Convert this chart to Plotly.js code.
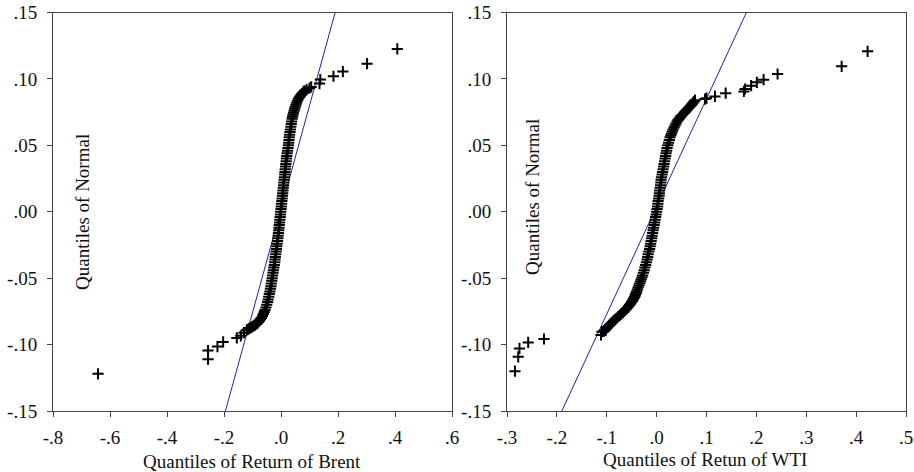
<!DOCTYPE html>
<html>
<head>
<meta charset="utf-8">
<script src="https://cdn.plot.ly/plotly-3.0.1.min.js"></script>
<style>html,body{margin:0;padding:0;background:#fff;}#chart{width:914px;height:472px;}</style>
</head>
<body>
<div id="chart"></div>
<script>
// Brent: sample quantiles (x) vs normal quantiles (y)
const brentX = [-0.642,-0.256,-0.256,-0.223,-0.203,-0.155,-0.141,-0.130,
  -0.120,-0.116,-0.112,-0.108,-0.104,-0.100,-0.097,-0.093,-0.090,-0.086,-0.083,-0.079,-0.076,-0.072,-0.069,-0.065,-0.062,-0.059,-0.056,-0.053,-0.050,-0.047,-0.045,-0.043,-0.041,-0.039,-0.037,-0.0355,-0.034,-0.0325,-0.031,-0.0295,-0.028,-0.0265,-0.025,-0.0235,-0.022,-0.021,-0.020,-0.0185,-0.017,-0.016,-0.015,-0.0135,-0.012,-0.011,-0.010,-0.009,-0.008,-0.007,-0.006,-0.005,-0.004,-0.003,-0.002,-0.001,
  0.000,0.001,0.002,0.003,0.004,0.005,0.006,0.007,0.008,0.009,0.010,0.011,0.012,0.013,0.014,0.015,0.016,0.017,0.018,0.019,0.020,0.0215,0.023,0.0245,0.026,0.027,0.028,0.029,0.030,0.0315,0.033,0.0345,0.036,0.0375,0.039,0.0405,0.042,0.044,0.046,0.048,0.050,0.0525,0.055,0.058,0.061,0.064,0.067,0.0705,0.074,0.078,0.082,
  0.090,0.100,0.106,0.135,0.138,0.184,0.217,0.302,0.408];
const brentY = [-0.122,-0.111,-0.1045,-0.1015,-0.098,-0.095,-0.0934,-0.091,
  -0.089,-0.0885,-0.088,-0.0875,-0.087,-0.0865,-0.086,-0.0855,-0.085,-0.0845,-0.084,-0.083,-0.082,-0.081,-0.080,-0.0785,-0.077,-0.0755,-0.074,-0.072,-0.070,-0.068,-0.066,-0.064,-0.062,-0.060,-0.058,-0.056,-0.054,-0.052,-0.050,-0.048,-0.046,-0.044,-0.042,-0.040,-0.038,-0.036,-0.034,-0.032,-0.030,-0.028,-0.026,-0.024,-0.022,-0.020,-0.018,-0.016,-0.014,-0.012,-0.010,-0.008,-0.006,-0.004,-0.002,0.000,
  0.002,0.004,0.006,0.008,0.010,0.012,0.014,0.016,0.018,0.020,0.022,0.024,0.026,0.028,0.030,0.032,0.034,0.036,0.038,0.040,0.042,0.044,0.046,0.048,0.050,0.052,0.054,0.056,0.058,0.060,0.062,0.064,0.066,0.068,0.070,0.0715,0.073,0.0745,0.076,0.0775,0.079,0.0805,0.082,0.0835,0.085,0.086,0.087,0.088,0.089,0.090,0.091,
  0.092,0.093,0.094,0.0965,0.0995,0.102,0.1055,0.1115,0.1226];
const brentLineX = [-0.195, 0.19];
const brentLineY = [-0.15, 0.15];

// WTI: sample quantiles (x) vs normal quantiles (y)
const wtiX = [-0.284,-0.2775,-0.275,-0.2575,-0.2258,-0.1115,-0.1095,
  -0.106,-0.1035,-0.101,-0.0985,-0.096,-0.0935,-0.091,-0.0885,-0.086,-0.083,-0.080,-0.077,-0.074,-0.071,-0.068,-0.0655,-0.063,-0.0605,-0.058,-0.056,-0.054,-0.052,-0.050,-0.0485,-0.047,-0.0455,-0.044,-0.043,-0.042,-0.041,-0.040,-0.0385,-0.037,-0.0355,-0.034,-0.0325,-0.031,-0.0295,-0.028,-0.0265,-0.025,-0.0235,-0.022,-0.0205,-0.019,-0.018,-0.017,-0.0155,-0.014,-0.013,-0.012,-0.011,-0.010,-0.009,-0.008,-0.007,-0.006,-0.005,-0.004,-0.003,-0.002,-0.001,
  0.000,0.001,0.002,0.0025,0.003,0.004,0.005,0.0055,0.006,0.007,0.008,0.0085,0.009,0.010,0.011,0.012,0.013,0.014,0.015,0.016,0.017,0.018,0.019,0.020,0.021,0.0225,0.024,0.0255,0.027,0.0285,0.030,0.0315,0.033,0.035,0.037,0.039,0.041,0.043,0.045,0.047,0.049,0.0515,0.054,0.0565,0.059,0.0615,0.064,0.0665,0.069,0.071,0.073,0.075,0.077,
  0.097,0.100,0.117,0.1385,0.175,0.1774,0.1895,0.201,0.2145,0.2425,0.371,0.423];
const wtiY = [-0.120,-0.1092,-0.1029,-0.0984,-0.0958,-0.0928,-0.0903,
  -0.090,-0.089,-0.088,-0.087,-0.086,-0.085,-0.084,-0.083,-0.082,-0.081,-0.080,-0.079,-0.078,-0.077,-0.076,-0.075,-0.074,-0.073,-0.072,-0.071,-0.070,-0.069,-0.068,-0.067,-0.066,-0.065,-0.064,-0.063,-0.062,-0.061,-0.060,-0.0585,-0.057,-0.0555,-0.054,-0.0525,-0.051,-0.0495,-0.048,-0.046,-0.044,-0.042,-0.040,-0.038,-0.036,-0.034,-0.032,-0.030,-0.028,-0.026,-0.024,-0.022,-0.020,-0.018,-0.016,-0.014,-0.012,-0.010,-0.008,-0.006,-0.004,-0.002,
  0.000,0.002,0.004,0.006,0.008,0.010,0.012,0.014,0.016,0.018,0.020,0.022,0.024,0.026,0.028,0.030,0.032,0.034,0.036,0.038,0.040,0.042,0.044,0.046,0.048,0.050,0.052,0.054,0.056,0.0575,0.059,0.0605,0.062,0.0635,0.065,0.0665,0.068,0.069,0.070,0.071,0.072,0.073,0.074,0.075,0.076,0.077,0.078,0.079,0.080,0.081,0.082,0.083,0.084,
  0.0848,0.0855,0.0868,0.0893,0.0906,0.0924,0.0949,0.0974,0.0994,0.1037,0.1095,0.1208];
const wtiLineX = [-0.19, 0.18];
const wtiLineY = [-0.15, 0.15];

const yTickVals = [-0.15,-0.10,-0.05,0,0.05,0.10,0.15];
const yTickText = ["-.15","-.10","-.05",".00",".05",".10",".15"];
const brentTickVals = [-0.8,-0.6,-0.4,-0.2,0,0.2,0.4,0.6];
const brentTickText = ["-.8","-.6","-.4","-.2",".0",".2",".4",".6"];
const wtiTickVals = [-0.3,-0.2,-0.1,0,0.1,0.2,0.3,0.4,0.5];
const wtiTickText = ["-.3","-.2","-.1",".0",".1",".2",".3",".4",".5"];

const FONT = "Liberation Serif, Times New Roman, serif";
const lineColor = "#23239b";
const mk = {symbol:"cross-thin", size:8, color:"#000", line:{color:"#000", width:2}};

const traces = [
  {x:brentLineX, y:brentLineY, mode:"lines", line:{color:lineColor, width:1}, xaxis:"x", yaxis:"y", hoverinfo:"skip"},
  {x:brentX, y:brentY, mode:"markers", marker:mk, xaxis:"x", yaxis:"y"},
  {x:wtiLineX, y:wtiLineY, mode:"lines", line:{color:lineColor, width:1}, xaxis:"x2", yaxis:"y2", hoverinfo:"skip"},
  {x:wtiX, y:wtiY, mode:"markers", marker:mk, xaxis:"x2", yaxis:"y2"}
];

function ax(extra){
  return Object.assign({
    showgrid:false, zeroline:false, showline:true, mirror:true,
    linecolor:"#444", linewidth:1, ticks:"outside", ticklen:5, tickcolor:"#444",
    tickmode:"array", tickfont:{family:FONT, size:19, color:"#111"}
  }, extra);
}

const yDom = [1-411/472, 1-12.5/472];
const layout = {
  width:914, height:472, showlegend:false,
  paper_bgcolor:"#fff", plot_bgcolor:"#fff",
  margin:{l:0,r:0,t:0,b:0},
  xaxis: ax({domain:[53/914, 452/914], range:[-0.8,0.6], tickvals:brentTickVals, ticktext:brentTickText, anchor:"y", ticklabelstandoff:4}),
  yaxis: ax({domain:yDom, range:[-0.15,0.15], tickvals:yTickVals, ticktext:yTickText, anchor:"x", ticklabelstandoff:6}),
  xaxis2: ax({domain:[507/914, 906/914], range:[-0.3,0.5], tickvals:wtiTickVals, ticktext:wtiTickText, anchor:"y2", ticklabelstandoff:4}),
  yaxis2: ax({domain:yDom, range:[-0.15,0.15], tickvals:yTickVals, ticktext:yTickText, anchor:"x2", ticklabelstandoff:6}),
  annotations:[
    {text:"Quantiles of Normal", xref:"paper", yref:"paper", x:82/914, y:1-212/472, textangle:-90, showarrow:false, xanchor:"center", yanchor:"middle", font:{family:FONT, size:19, color:"#111"}},
    {text:"Quantiles of Normal", xref:"paper", yref:"paper", x:532/914, y:1-197/472, textangle:-90, showarrow:false, xanchor:"center", yanchor:"middle", font:{family:FONT, size:19, color:"#111"}},
    {text:"Quantiles of Return of Brent", xref:"paper", yref:"paper", x:252/914, y:1-461/472, showarrow:false, xanchor:"center", yanchor:"middle", font:{family:FONT, size:19, color:"#111"}},
    {text:"Quantiles of Retun of WTI", xref:"paper", yref:"paper", x:705/914, y:1-459/472, showarrow:false, xanchor:"center", yanchor:"middle", font:{family:FONT, size:19, color:"#111"}}
  ]
};

Plotly.newPlot("chart", traces, layout, {displayModeBar:false, staticPlot:true});
</script>
</body>
</html>
